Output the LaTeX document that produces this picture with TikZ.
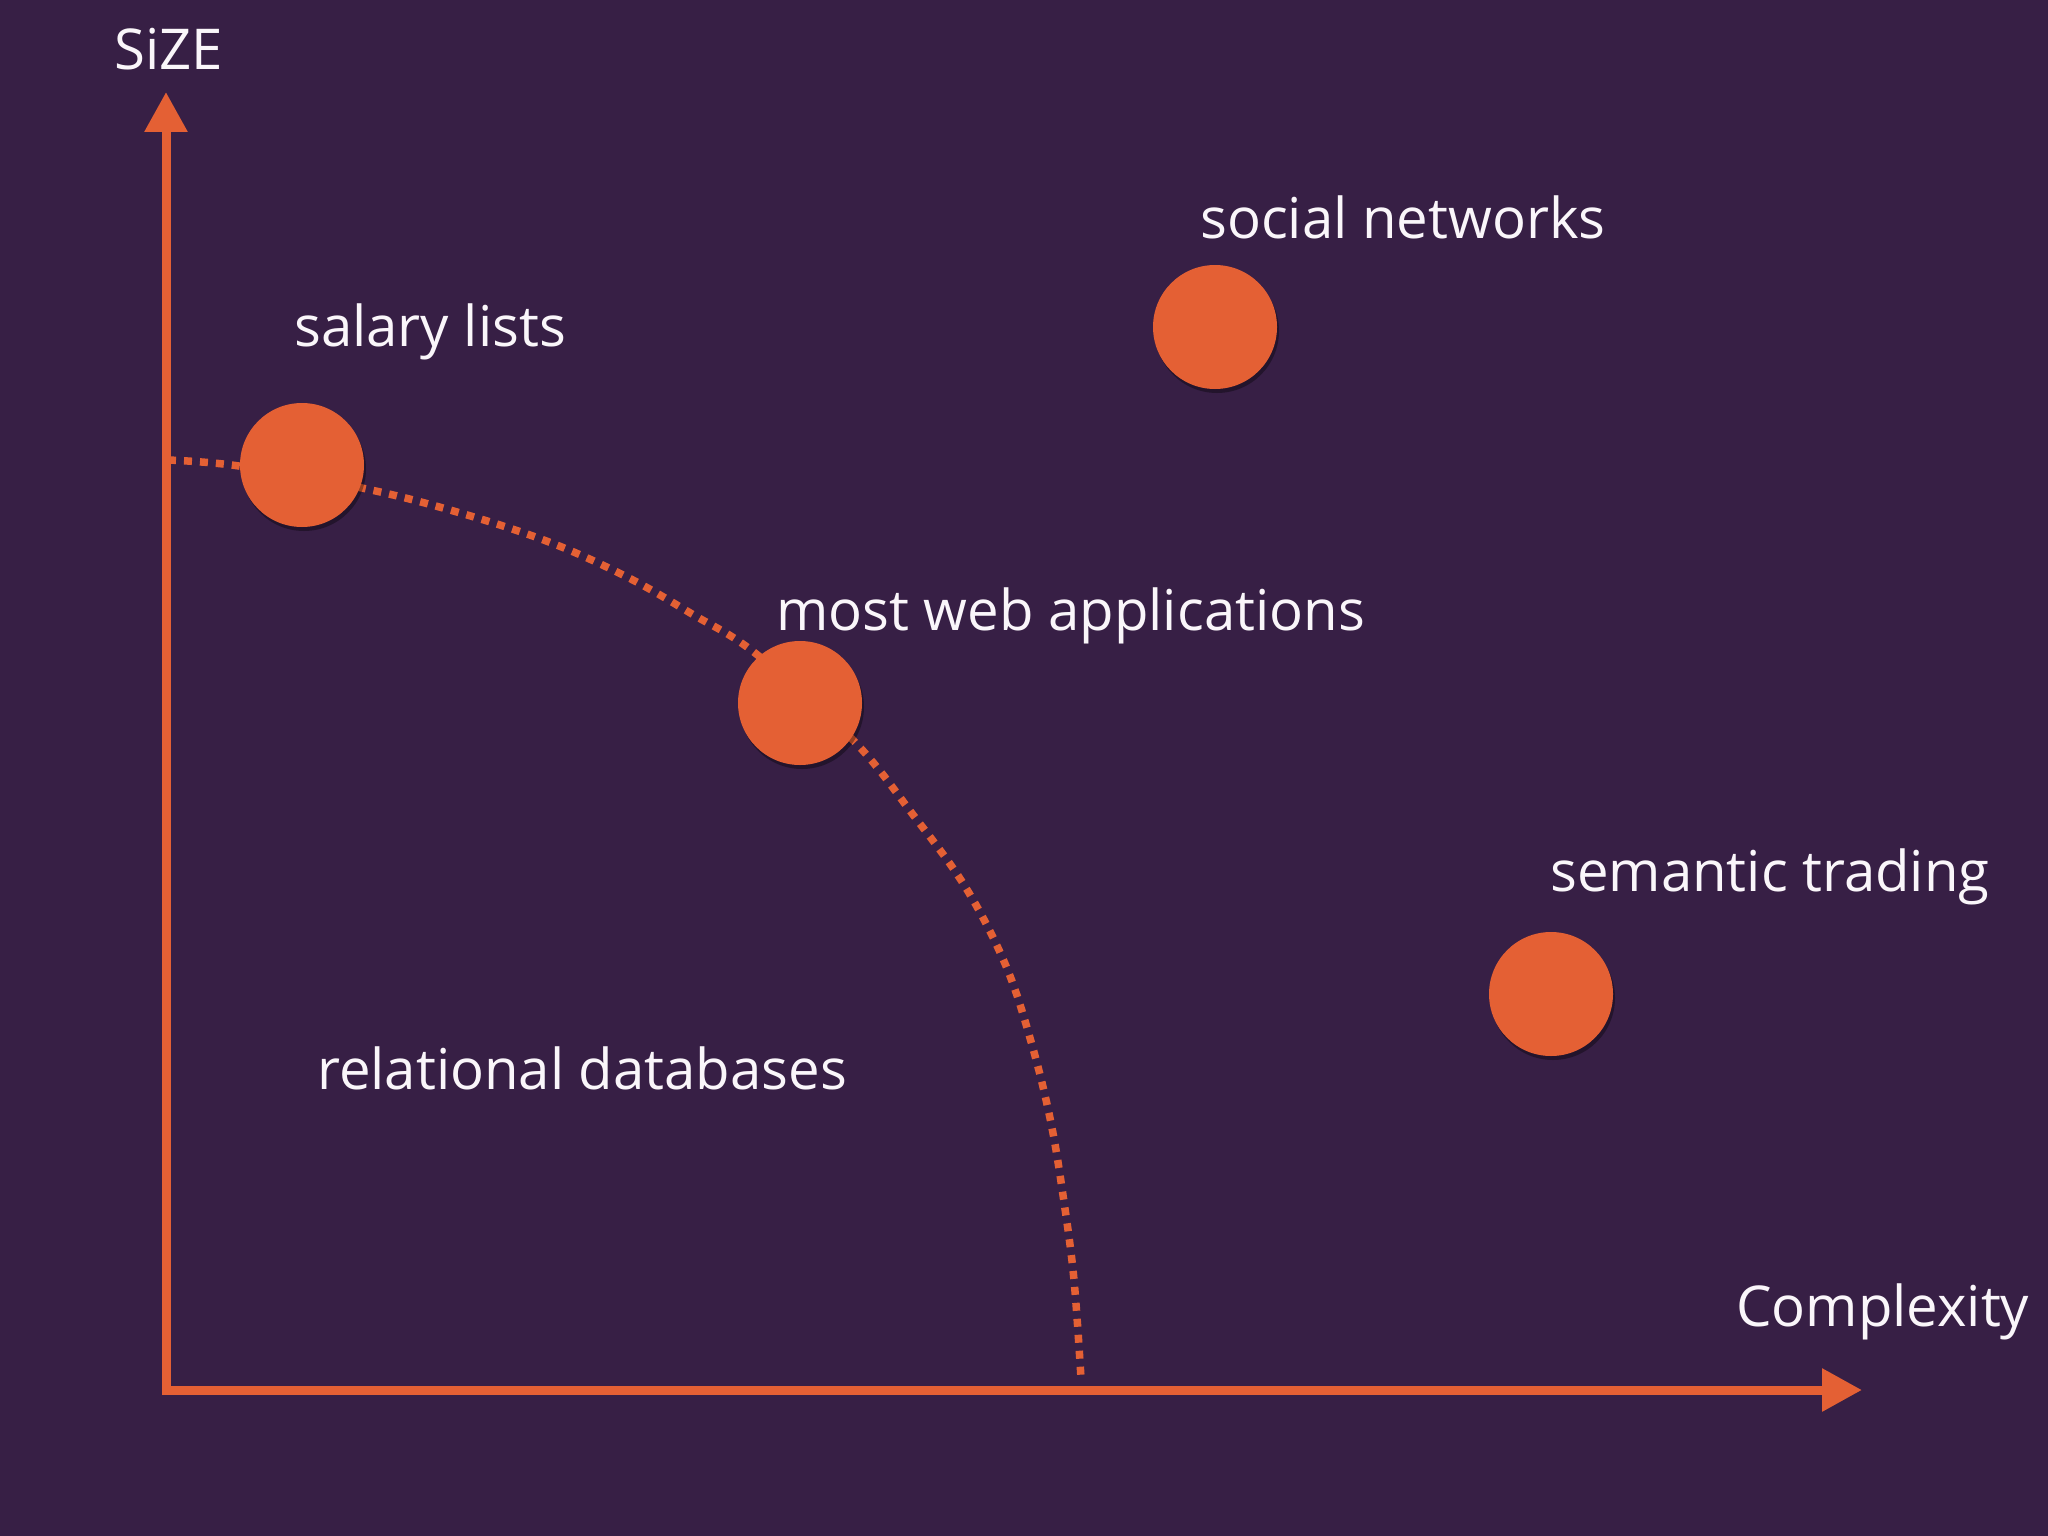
\documentclass[tikz,border=0pt]{standalone}
\usepackage{fontspec}
\setmainfont{Open Sans}
\usetikzlibrary{arrows.meta,shadows}
\definecolor{bgpurple}{RGB}{55,31,69}
\definecolor{accent}{RGB}{228,96,52}
\definecolor{labelwhite}{RGB}{250,246,250}
\tikzset{
  axisline/.style={draw=accent, line width=9pt, -{Triangle[width=41pt,length=40pt]}},
  boundary/.style={draw=accent, line width=7.5pt, dash pattern=on 8pt off 8pt},
  dot/.style={circle, fill=accent, minimum size=124pt, inner sep=0pt,
    drop shadow={shadow xshift=2pt, shadow yshift=-4pt, opacity=0.35, fill=black}},
  lbl/.style={anchor=base west, inner sep=0pt, text=labelwhite,
    font=\fontsize{56.3}{67}\selectfont}
}
\begin{document}
\begin{tikzpicture}[x=1pt,y=-1pt]
\fill[bgpurple] (0,0) rectangle (2048,1536);
\useasboundingbox (0,0) rectangle (2048,1536);
% axes
\coordinate (ybase) at (166,1395);
\coordinate (ytip) at (166,92);
\coordinate (xbase) at (162,1390);
\coordinate (xtip) at (1862,1390);
\draw[axisline] (ybase) -- (ytip);
\draw[axisline] (xbase) -- (xtip);
% dotted boundary
\draw[boundary] plot[smooth, tension=0.6] coordinates {
 (168,460) (239,466) (362,488) (457,512) (549,542) (627,577) (692,614)
 (755,653) (852,739) (914,816) (966,888) (1006,966) (1032,1045)
 (1051,1123) (1064,1202) (1074,1280) (1081,1378)};
% circles
\node[dot] (salary) at (302,465) {};
\node[dot] (web) at (800,703) {};
\node[dot] (social) at (1215,327) {};
\node[dot] (semantic) at (1551,994) {};
% labels
\node[lbl] (sizelbl) at (114,70) {SiZE};
\node[lbl] (complexitylbl) at (1736,1326) {Complexity};
\node[lbl] (salarylbl) at (294,346) {salary lists};
\node[lbl] (sociallbl) at (1200,238) {social networks};
\node[lbl] (weblbl) at (776,630) {most web applications};
\node[lbl] (semanticlbl) at (1550,891) {semantic trading};
\node[lbl] (rellbl) at (317,1089) {relational databases};
\end{tikzpicture}
\end{document}
